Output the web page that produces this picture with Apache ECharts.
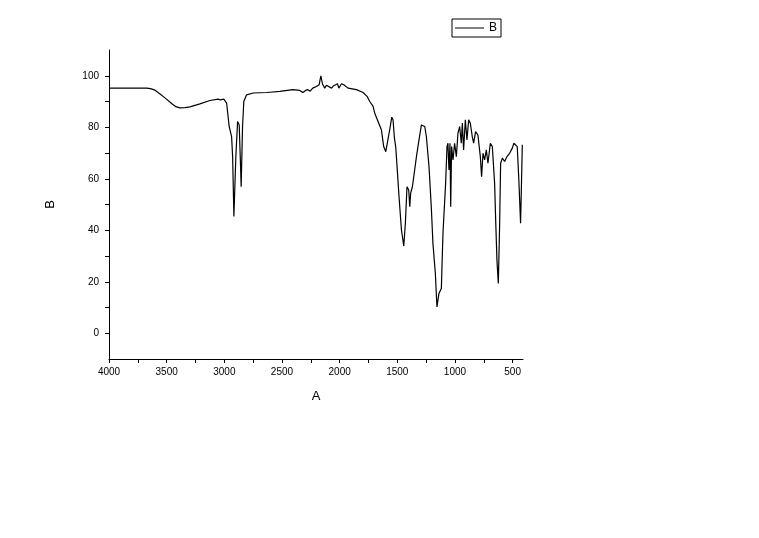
<!DOCTYPE html>
<html>
<head>
<meta charset="utf-8">
<script src="https://cdn.jsdelivr.net/npm/echarts@6/dist/echarts.min.js"></script>
<style>html,body{margin:0;padding:0;background:#fff}#c{width:759px;height:538px}</style>
</head>
<body>
<div id="c"></div>
<script>
var wavenumber = [4000,3673,3640,3601,3560,3515,3454,3420,3385,3340,3298,3212,3125,3053,3035,3024,3004,2980,2958,2937,2928,2917,2900,2885,2871,2859,2854,2842,2831,2807,2750,2634,2605,2519,2406,2345,2319,2295,2276,2255,2233,2201,2178,2163,2149,2129,2115,2100,2071,2055,2042,2019,2007,1984,1964,1927,1854,1797,1762,1739,1710,1696,1667,1638,1618,1600,1586,1566,1548,1537,1525,1514,1502,1485,1464,1444,1430,1416,1401,1392,1384,1369,1355,1334,1312,1291,1262,1248,1225,1204,1191,1170,1156,1139,1118,1104,1081,1069,1061,1052,1043,1037,1029,1017,1003,988,974,959,945,936,925,910,896,881,867,850,838,821,801,780,769,757,743,728,714,693,676,656,647,636,624,613,604,589,569,549,526,503,489,474,460,446,431,425,416];
var transmittance = [95.2,95.2,95.0,94.4,93.0,91.4,89.1,88.0,87.5,87.6,87.9,89.1,90.4,90.9,90.6,90.0,90.9,89.4,80.3,76.4,68.6,45.3,68.6,82.2,80.9,64.7,56.9,80.3,90.0,92.6,93.3,93.5,93.6,93.9,94.6,94.3,93.5,94.3,94.6,94.0,95.2,95.8,96.5,100.0,96.8,95.2,96.3,96.1,95.2,96.0,96.5,96.9,95.2,96.9,96.5,95.2,94.6,93.5,92.0,90.0,88.1,85.5,82.2,79.0,72.5,70.5,71.2,79.0,83.9,82.9,75.8,72.5,64.7,53.0,40.1,33.9,42.7,56.9,55.6,49.1,54.4,56.9,56.3,68.6,75.1,80.9,80.3,76.4,64.7,47.9,34.9,23.2,10.2,15.4,17.4,38.8,58.2,72.5,73.8,63.4,73.8,49.1,72.5,67.3,73.8,68.6,77.7,80.3,73.8,81.6,71.2,82.9,75.1,82.9,81.6,76.4,73.8,78.3,77.0,68.6,60.8,69.9,67.3,71.2,66.0,73.8,72.5,58.2,44.0,28.4,19.3,41.4,66.0,68.0,66.7,68.6,69.9,71.9,73.8,73.2,72.5,59.5,42.7,54.4,73.2];
var xLabelValues = [4000,3500,3000,2500,2000,1500,1000,500];
var xTickValues = [4000,3750,3500,3250,3000,2750,2500,2250,2000,1750,1500,1250,1000,750,500];
var yLabelValues = [0,20,40,60,80,100];
var yTickValues = [0,10,20,30,40,50,60,70,80,90,100];

var pts = wavenumber.map(function(w,i){return [w, transmittance[i]];});
var font = 'Liberation Sans, Arial, sans-serif';
var chart = echarts.init(document.getElementById('c'), null, {renderer:'canvas'});
chart.setOption({
  animation:false,
  backgroundColor:'#fff',
  grid:{left:109, top:50, width:414, height:309, containLabel:false},
  legend:{
    left:452, top:19, padding:[3,4,3,3], itemWidth:29, itemHeight:1, itemGap:5,
    borderColor:'#000', borderWidth:1, borderRadius:0, icon:'rect',
    textStyle:{fontFamily:font, fontSize:12, color:'#000', padding:[0,0,0,0]},
    data:[{name:'B'}]
  },
  xAxis:{
    type:'value', inverse:true, min:410, max:4000,
    name:'A', nameLocation:'middle', nameGap:31,
    nameTextStyle:{fontFamily:font, fontSize:13, color:'#000'},
    axisLine:{show:true, onZero:false, lineStyle:{color:'#000', width:1}},
    axisTick:{show:true, inside:false, length:4, customValues:xTickValues, lineStyle:{color:'#000'}},
    axisLabel:{customValues:xLabelValues, formatter:function(v){return String(v);}, fontFamily:font, fontSize:10, color:'#000', margin:8, showMinLabel:true, showMaxLabel:true},
    splitLine:{show:false}
  },
  yAxis:{
    type:'value', min:-10, max:110,
    name:'B', nameLocation:'middle', nameGap:52, nameRotate:90,
    nameTextStyle:{fontFamily:font, fontSize:13, color:'#000'},
    axisLine:{show:true, onZero:false, lineStyle:{color:'#000', width:1}},
    axisTick:{show:true, inside:false, length:4, customValues:yTickValues, lineStyle:{color:'#000'}},
    axisLabel:{customValues:yLabelValues, formatter:function(v){return String(v);}, fontFamily:font, fontSize:10, color:'#000', margin:10},
    splitLine:{show:false}
  },
  series:[{
    name:'B', type:'line', data:pts, showSymbol:false, symbol:'none',
    lineStyle:{color:'#000', width:1.2}, itemStyle:{color:'#000'}
  }]
});
</script>
</body>
</html>
